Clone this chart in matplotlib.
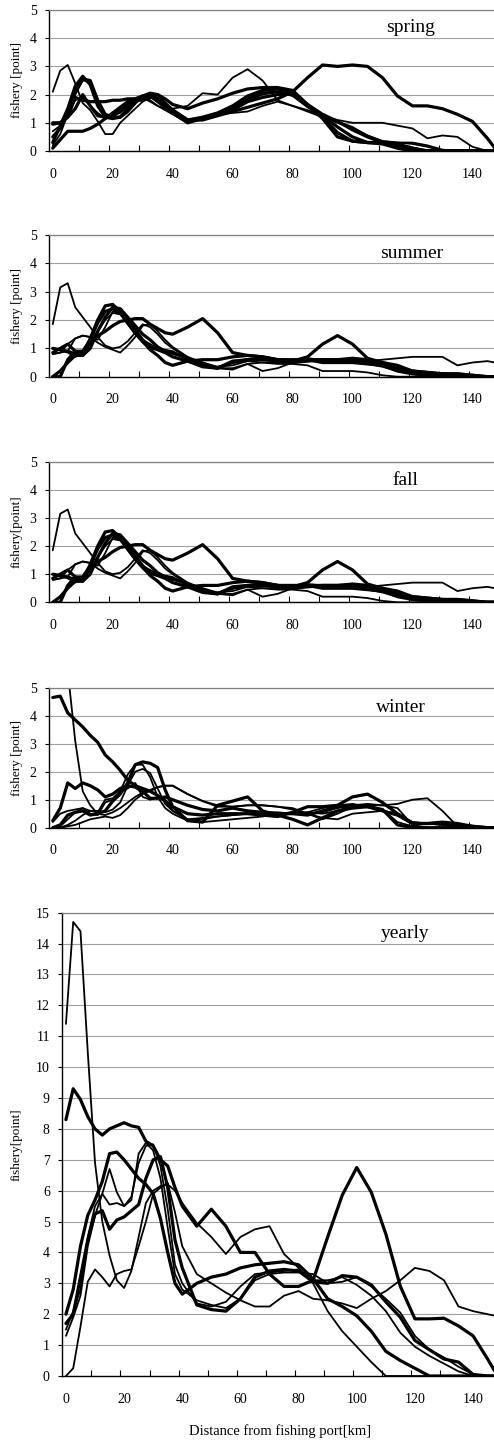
import matplotlib
matplotlib.use("Agg")
import matplotlib.pyplot as plt

plt.rcParams["font.family"] = ["Liberation Serif", "DejaVu Serif"]

# distance from fishing port [km]
dist_km = [0, 2.5, 5, 7.5, 10, 12.5, 15, 17.5, 20, 22.5, 25, 27.5, 30, 32.5, 35, 37.5, 40,
           45, 50, 55, 60, 65, 70, 75, 80, 85, 90, 95, 100, 105, 110, 115, 120, 125, 130,
           135, 140, 145, 147.5]

# ---- spring ----
spring = [
    [2.1, 2.85, 3.05, 2.4, 1.7, 1.45, 1.05, 0.6, 0.6, 1.0, 1.25, 1.5, 1.75, 1.9, 1.8, 1.65, 1.5,
     1.6, 2.05, 2.0, 2.6, 2.9, 2.5, 1.8, 1.6, 1.45, 1.25, 1.1, 1.0, 1.0, 1.0, 0.9, 0.8, 0.45, 0.55, 0.5, 0.15, 0.0, 0.0],
    [0.1, 0.4, 0.7, 0.7, 0.7, 0.8, 0.95, 1.15, 1.35, 1.55, 1.75, 1.85, 1.95, 2.0, 1.85, 1.6, 1.45,
     1.1, 1.1, 1.25, 1.4, 1.55, 1.7, 1.85, 2.1, 2.6, 3.05, 3.0, 3.05, 3.0, 2.6, 1.95, 1.6, 1.6, 1.5, 1.3, 1.05, 0.45, 0.1],
    [0.95, 1.0, 1.2, 1.9, 1.8, 1.75, 1.75, 1.75, 1.8, 1.8, 1.85, 1.85, 1.9, 1.95, 1.85, 1.6, 1.45,
     1.05, 1.15, 1.3, 1.45, 1.75, 1.9, 2.0, 2.05, 1.6, 1.2, 0.65, 0.35, 0.3, 0.3, 0.25, 0.1, 0.0, 0.0, 0.0, 0.0, 0.0, 0.0],
    [0.3, 0.9, 1.5, 2.3, 2.65, 2.35, 1.6, 1.2, 1.15, 1.2, 1.4, 1.7, 1.95, 2.05, 2.0, 1.7, 1.45,
     1.1, 1.2, 1.35, 1.6, 1.95, 2.15, 2.2, 2.1, 1.6, 1.25, 0.85, 0.5, 0.3, 0.3, 0.2, 0.05, 0.0, 0.0, 0.0, 0.0, 0.0, 0.0],
    [0.5, 0.8, 1.45, 2.1, 2.55, 2.5, 1.8, 1.3, 1.2, 1.2, 1.5, 1.8, 1.95, 1.95, 1.75, 1.55, 1.35,
     1.0, 1.15, 1.3, 1.5, 1.85, 2.05, 2.1, 2.0, 1.65, 1.3, 1.05, 0.75, 0.5, 0.3, 0.2, 0.1, 0.0, 0.0, 0.0, 0.0, 0.0, 0.0],
    [0.7, 0.9, 1.35, 2.0, 2.5, 2.45, 1.7, 1.3, 1.25, 1.35, 1.6, 1.85, 1.9, 1.8, 1.6, 1.5, 1.4,
     1.05, 1.2, 1.3, 1.45, 1.8, 2.0, 2.1, 1.95, 1.55, 1.3, 1.05, 0.85, 0.55, 0.35, 0.3, 0.3, 0.2, 0.05, 0.0, 0.0, 0.0, 0.0],
    [0.2, 0.6, 1.3, 1.8, 1.9, 1.6, 1.35, 1.15, 1.2, 1.4, 1.65, 1.85, 1.9, 1.75, 1.6, 1.45, 1.3,
     1.0, 1.2, 1.3, 1.35, 1.4, 1.6, 1.75, 1.6, 1.4, 1.2, 1.0, 0.8, 0.55, 0.35, 0.3, 0.25, 0.15, 0.0, 0.0, 0.0, 0.0, 0.0],
    [1.0, 1.0, 1.2, 1.5, 2.0, 1.6, 1.25, 1.2, 1.3, 1.5, 1.7, 1.8, 1.8, 1.9, 2.0, 1.85, 1.65,
     1.5, 1.7, 1.85, 2.05, 2.2, 2.25, 2.25, 2.15, 1.65, 1.15, 0.5, 0.35, 0.3, 0.25, 0.1, 0.0, 0.0, 0.0, 0.0, 0.0, 0.0, 0.0],
]
spring_thick = [False, True, True, True, True, False, False, True]

# ---- summer ----
summer = [
    [1.85, 3.15, 3.3, 2.45, 2.1, 1.75, 1.4, 1.1, 1.0, 1.05, 1.25, 1.55, 1.85, 1.75, 1.5, 1.2, 1.0,
     0.65, 0.45, 0.3, 0.3, 0.45, 0.5, 0.5, 0.55, 0.6, 0.55, 0.6, 0.6, 0.55, 0.5, 0.2, 0.15, 0.1, 0.1, 0.05, 0.0, 0.0, 0.0],
    [0.8, 0.85, 0.9, 1.35, 1.45, 1.4, 1.2, 1.05, 0.95, 0.85, 1.1, 1.4, 1.8, 1.85, 1.6, 1.3, 1.05,
     0.7, 0.5, 0.3, 0.25, 0.45, 0.2, 0.3, 0.5, 0.55, 0.55, 0.6, 0.55, 0.55, 0.6, 0.65, 0.7, 0.7, 0.7, 0.4, 0.5, 0.55, 0.5],
    [0.85, 1.0, 1.15, 0.9, 0.8, 1.2, 1.45, 1.6, 1.8, 1.95, 2.0, 2.05, 2.05, 1.85, 1.7, 1.55, 1.5,
     1.75, 2.05, 1.55, 0.85, 0.75, 0.7, 0.6, 0.55, 0.7, 1.15, 1.45, 1.15, 0.65, 0.5, 0.25, 0.15, 0.1, 0.1, 0.05, 0.0, 0.0, 0.0],
    [1.0, 0.95, 0.9, 0.8, 0.75, 1.35, 2.0, 2.5, 2.55, 2.3, 1.9, 1.55, 1.25, 0.95, 0.75, 0.5, 0.4,
     0.55, 0.6, 0.6, 0.7, 0.75, 0.7, 0.6, 0.55, 0.6, 0.6, 0.6, 0.6, 0.55, 0.45, 0.3, 0.2, 0.15, 0.1, 0.1, 0.05, 0.0, 0.0],
    [0.0, 0.2, 0.5, 0.75, 0.75, 1.0, 1.6, 2.1, 2.45, 2.4, 2.1, 1.8, 1.5, 1.3, 1.05, 0.9, 0.85,
     0.65, 0.4, 0.3, 0.5, 0.6, 0.6, 0.55, 0.5, 0.55, 0.6, 0.6, 0.65, 0.6, 0.5, 0.4, 0.2, 0.15, 0.1, 0.1, 0.05, 0.0, 0.0],
    [0.0, 0.0, 0.6, 0.9, 0.9, 1.3, 1.9, 2.3, 2.4, 2.25, 2.0, 1.65, 1.3, 1.05, 0.95, 0.85, 0.7,
     0.55, 0.35, 0.3, 0.55, 0.6, 0.65, 0.6, 0.6, 0.6, 0.5, 0.5, 0.5, 0.45, 0.4, 0.2, 0.1, 0.05, 0.0, 0.0, 0.0, 0.0, 0.0],
    [0.8, 0.85, 1.15, 1.35, 1.45, 1.4, 1.3, 1.75, 2.3, 2.25, 1.95, 1.6, 1.3, 1.15, 1.0, 0.95, 0.9,
     0.6, 0.35, 0.35, 0.5, 0.55, 0.5, 0.45, 0.45, 0.4, 0.2, 0.2, 0.2, 0.15, 0.05, 0.0, 0.0, 0.0, 0.0, 0.0, 0.0, 0.0, 0.0],
    [1.0, 0.95, 0.85, 0.7, 0.8, 1.2, 1.6, 2.0, 2.25, 2.2, 1.85, 1.5, 1.2, 1.0, 0.95, 0.85, 0.8,
     0.65, 0.5, 0.35, 0.4, 0.55, 0.6, 0.6, 0.6, 0.65, 0.6, 0.55, 0.55, 0.45, 0.35, 0.2, 0.1, 0.05, 0.05, 0.0, 0.0, 0.0, 0.0],
]
summer_thick = [False, False, True, True, True, True, False, False]

# the fall panel in the source shows the same curves as summer
fall = summer
fall_thick = summer_thick

# ---- winter ----
winter = [
    [6.5, 6.8, 5.6, 3.1, 1.3, 0.8, 0.5, 0.45, 0.55, 0.7, 0.9, 1.1, 1.25, 1.3, 1.45, 1.5, 1.5,
     1.2, 0.95, 0.8, 0.75, 0.8, 0.8, 0.75, 0.65, 0.5, 0.35, 0.3, 0.5, 0.55, 0.6, 0.5, 0.2, 0.15, 0.1, 0.05, 0.0, 0.0, 0.0],
    [4.65, 4.7, 4.1, 3.85, 3.6, 3.3, 3.05, 2.6, 2.35, 2.05, 1.7, 1.5, 1.4, 1.3, 1.15, 0.95, 0.75,
     0.5, 0.45, 0.5, 0.5, 0.5, 0.45, 0.4, 0.55, 0.75, 0.75, 0.8, 1.1, 1.2, 0.9, 0.5, 0.15, 0.15, 0.2, 0.15, 0.05, 0.0, 0.0],
    [0.25, 0.7, 1.6, 1.4, 1.6, 1.5, 1.35, 1.1, 1.2, 1.4, 1.5, 1.45, 1.3, 1.05, 1.05, 1.1, 1.0,
     0.8, 0.65, 0.6, 0.7, 0.6, 0.55, 0.5, 0.5, 0.45, 0.6, 0.75, 0.8, 0.75, 0.6, 0.45, 0.15, 0.15, 0.15, 0.1, 0.05, 0.0, 0.0],
    [0.0, 0.1, 0.45, 0.55, 0.6, 0.45, 0.5, 0.6, 0.95, 1.2, 1.6, 2.25, 2.35, 2.3, 2.15, 1.35, 0.75,
     0.25, 0.2, 0.8, 0.95, 1.1, 0.6, 0.45, 0.3, 0.1, 0.35, 0.6, 0.7, 0.75, 0.65, 0.1, 0.0, 0.0, 0.0, 0.0, 0.0, 0.0, 0.0],
    [0.0, 0.05, 0.3, 0.55, 0.7, 0.5, 0.45, 0.9, 1.0, 1.3, 1.9, 2.25, 2.25, 1.8, 1.1, 0.7, 0.5,
     0.25, 0.3, 0.4, 0.45, 0.5, 0.55, 0.55, 0.5, 0.55, 0.7, 0.8, 0.85, 0.75, 0.6, 0.5, 0.2, 0.15, 0.1, 0.05, 0.0, 0.0, 0.0],
    [0.0, 0.0, 0.1, 0.25, 0.45, 0.6, 0.6, 0.55, 0.65, 0.9, 1.5, 2.0, 2.1, 1.95, 1.4, 0.85, 0.6,
     0.3, 0.35, 0.4, 0.45, 0.5, 0.5, 0.5, 0.55, 0.5, 0.55, 0.7, 0.8, 0.8, 0.65, 0.2, 0.05, 0.0, 0.0, 0.0, 0.0, 0.0, 0.0],
    [0.0, 0.0, 0.05, 0.1, 0.2, 0.3, 0.35, 0.4, 0.35, 0.45, 0.7, 1.0, 1.2, 1.35, 1.45, 1.5, 1.5,
     1.2, 0.95, 0.75, 0.75, 0.8, 0.8, 0.75, 0.7, 0.5, 0.3, 0.5, 0.75, 0.8, 0.8, 0.85, 1.0, 1.05, 0.6, 0.05, 0.0, 0.0, 0.0],
    [0.2, 0.5, 0.6, 0.65, 0.7, 0.6, 0.55, 1.0, 1.05, 1.3, 1.4, 1.6, 1.1, 1.0, 1.1, 1.0, 0.6,
     0.3, 0.2, 0.25, 0.3, 0.35, 0.4, 0.5, 0.5, 0.55, 0.5, 0.6, 0.8, 0.85, 0.8, 0.7, 0.1, 0.0, 0.0, 0.0, 0.0, 0.0, 0.0],
]
winter_thick = [False, True, True, True, False, False, False, False]

# ---- yearly ----
yearly = [
    [11.4, 14.7, 14.4, 10.5, 6.9, 5.0, 3.9, 3.1, 2.85, 3.4, 4.5, 5.6, 6.0, 6.15, 6.2, 6.0, 5.6,
     4.95, 4.5, 3.95, 4.5, 4.75, 4.85, 3.95, 3.5, 3.0, 2.1, 1.45, 0.95, 0.45, 0.0, 0.0, 0.0, 0.0, 0.0, 0.0, 0.0, 0.0, 0.0],
    [0.0, 0.25, 1.6, 3.05, 3.45, 3.2, 2.9, 3.3, 3.4, 3.45, 4.2, 5.0, 5.9, 6.1, 6.25, 5.3, 4.2,
     3.3, 3.0, 2.7, 2.45, 2.25, 2.25, 2.6, 2.75, 2.5, 2.45, 2.35, 2.2, 2.5, 2.75, 3.1, 3.5, 3.4, 3.1, 2.25, 2.1, 2.0, 1.95],
    [8.3, 9.3, 8.95, 8.4, 8.0, 7.8, 8.0, 8.1, 8.2, 8.1, 8.05, 7.6, 7.45, 7.0, 6.8, 6.1, 5.5,
     4.85, 5.4, 4.85, 4.0, 4.0, 3.3, 2.9, 2.9, 3.1, 4.5, 5.85, 6.75, 5.95, 4.6, 2.9, 1.85, 1.85, 1.87, 1.62, 1.3, 0.55, 0.15],
    [2.0, 2.8, 4.2, 5.2, 5.7, 6.3, 7.2, 7.25, 7.0, 6.7, 6.4, 6.2, 5.9, 5.1, 4.0, 3.0, 2.65,
     3.0, 3.2, 3.3, 3.5, 3.6, 3.65, 3.7, 3.6, 3.15, 2.5, 2.25, 1.95, 1.45, 0.8, 0.5, 0.25, 0.0, 0.0, 0.0, 0.0, 0.0, 0.0],
    [1.7, 2.0, 3.2, 4.4, 5.25, 5.35, 4.75, 5.05, 5.15, 5.35, 5.55, 6.4, 7.0, 7.1, 6.1, 4.4, 3.5,
     2.3, 2.15, 2.1, 2.5, 3.2, 3.4, 3.45, 3.4, 3.05, 3.0, 3.25, 3.2, 2.95, 2.4, 1.9, 1.15, 0.85, 0.55, 0.45, 0.05, 0.0, 0.0],
    [1.5, 2.1, 2.8, 4.5, 5.5, 5.9, 6.7, 5.95, 5.5, 5.8, 6.9, 7.45, 7.5, 6.8, 5.4, 3.6, 3.0,
     2.35, 2.25, 2.4, 2.9, 3.3, 3.35, 3.4, 3.45, 3.1, 3.1, 3.2, 2.95, 2.6, 2.1, 1.4, 0.95, 0.65, 0.4, 0.15, 0.0, 0.0, 0.0],
    [1.3, 1.9, 2.6, 4.2, 5.2, 5.9, 5.55, 5.6, 5.5, 5.7, 7.2, 7.55, 7.3, 6.4, 4.8, 3.3, 2.8,
     2.45, 2.3, 2.2, 2.5, 3.1, 3.3, 3.35, 3.35, 3.3, 3.0, 3.05, 3.2, 2.9, 2.5, 2.05, 1.3, 0.85, 0.6, 0.3, 0.05, 0.0, 0.0],
]
yearly_thick = [False, False, True, True, True, False, False]

x_labels = [0, 20, 40, 60, 80, 100, 120, 140]

W, H = 494, 1444
fig = plt.figure(figsize=(W / 100, H / 100), dpi=100)

# name, series, thick flags, y label, left/top/bottom (px), ymax, title x/baseline (px)
panels = [
    ("spring", spring, spring_thick, "fishery [point]", 49, 10, 151, 5, 411, 31.5),
    ("summer", summer, summer_thick, "fishery [point]", 49, 235, 376.7, 5, 412, 258),
    ("fall", fall, fall_thick, "fishery[point]", 49, 461.7, 602.3, 5, 405, 485),
    ("winter", winter, winter_thick, "fishery [point]", 49, 687.7, 827.7, 5, 401, 711.5),
    ("yearly", yearly, yearly_thick, "fishery[point]", 62.3, 912.7, 1376, 15, 405, 938),
]

for name, series, thick, ylab, left, top, bottom, ymax, tx, ty in panels:
    ax = fig.add_axes([left / W, 1 - bottom / H, (W - left) / W, (bottom - top) / H])
    for s, t in zip(series, thick):
        ax.plot(dist_km, s, color="black", lw=2.3 if t else 1.3,
                solid_joinstyle="round", solid_capstyle="round")
    ax.set_xlim(-1.25, 147.2)
    ax.set_ylim(0, ymax)
    ax.set_yticks(range(0, ymax + 1))
    ax.yaxis.grid(True, color="#a0a0a0", lw=0.8)
    ax.set_axisbelow(True)

    ax.spines["right"].set_visible(False)
    ax.spines["top"].set_color("#808080")
    ax.spines["top"].set_linewidth(0.9)
    ax.spines["left"].set_linewidth(1.0)
    ax.spines["bottom"].set_linewidth(1.0)

    ax.set_xticks(x_labels)
    ax.set_xticks([8.75 + 10 * k for k in range(14)], minor=True)
    ax.tick_params(axis="x", which="major", length=0, pad=12, labelsize=10)
    ax.tick_params(axis="x", which="minor", direction="in", length=4.5, width=0.8)
    ax.tick_params(axis="y", direction="out", length=3, width=0.8, pad=6, labelsize=10)

    fig.text(17 / W, 1 - (top + bottom) / 2 / H, ylab, rotation=90,
             ha="center", va="center", fontsize=9.5)
    fig.text(tx / W, 1 - ty / H, name, ha="center", va="baseline", fontsize=14)

fig.text(280 / W, 1 - 1435 / H, "Distance from fishing port[km]",
         ha="center", va="baseline", fontsize=10.5)

fig.savefig("out.png", dpi=100)
